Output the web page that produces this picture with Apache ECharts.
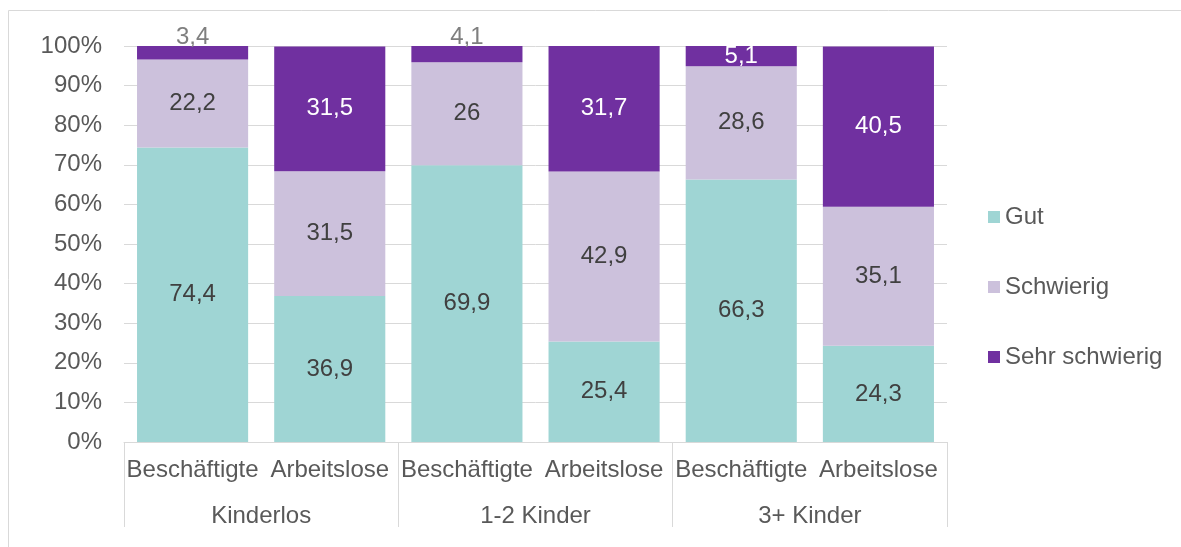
<!DOCTYPE html>
<html>
<head>
<meta charset="utf-8">
<script src="https://cdn.jsdelivr.net/npm/echarts@6/dist/echarts.min.js"></script>
<style>
  html, body { margin: 0; padding: 0; background: #fff; }
  #chart { width: 1181px; height: 547px; }
</style>
</head>
<body>
<div id="chart"></div>
<script>
const categories = ['Beschäftigte', 'Arbeitslose', 'Beschäftigte', 'Arbeitslose', 'Beschäftigte', 'Arbeitslose'];
const groups = ['Kinderlos', '1-2 Kinder', '3+ Kinder'];
const seriesNames = ['Gut', 'Schwierig', 'Sehr schwierig'];
const gut = [74.4, 36.9, 69.9, 25.4, 66.3, 24.3];
const schwierig = [22.2, 31.5, 26, 42.9, 28.6, 35.1];
const sehrSchwierig = [3.4, 31.5, 4.1, 31.7, 5.1, 40.5];
const yTicks = [0, 10, 20, 30, 40, 50, 60, 70, 80, 90, 100];

const colors = ['#9fd5d4', '#ccc1dc', '#7030a0'];
const labelColors = ['#404040', '#404040', '#ffffff'];
const font = 'Liberation Sans, Arial, sans-serif';
const fs = 24;

const fmt = v => String(v).replace('.', ',');

function buildSeries(name, values, i) {
    return {
        name: name,
        type: 'bar',
        stack: 'total',
        barCategoryGap: '19%',
        itemStyle: { color: colors[i] },
        label: {
            show: true,
            position: 'inside',
            color: labelColors[i],
            fontSize: fs,
            fontFamily: font,
            formatter: p => fmt(p.value)
        },
        // tiny top segments get their label above the bar, in grey
        data: values.map(v => (i === 2 && v < 5)
            ? { value: v, label: { position: 'top', distance: -3, color: '#7f7f7f' } }
            : v)
    };
}

const chart = echarts.init(document.getElementById('chart'));
chart.setOption({
    animation: false,
    textStyle: { fontFamily: font },
    graphic: [{
        type: 'rect',
        shape: { x: 8.5, y: 10.5, width: 1180, height: 545 },
        style: { fill: 'none', stroke: '#d9d9d9', lineWidth: 1 },
        silent: true
    }],
    legend: {
        orient: 'vertical',
        left: 988,
        top: 205,
        padding: 0,
        itemWidth: 12,
        itemHeight: 12,
        itemGap: 46,
        icon: 'rect',
        data: seriesNames,
        textStyle: { fontSize: fs, color: '#595959', lineHeight: 24 }
    },
    grid: { left: 124, right: 234, top: 46, bottom: 105 },
    xAxis: [{
        type: 'category',
        data: categories,
        axisLine: { lineStyle: { color: '#d9d9d9' } },
        axisTick: { show: false },
        axisLabel: { color: '#595959', fontSize: fs, margin: 16, interval: 0 }
    }, {
        type: 'category',
        data: groups,
        position: 'bottom',
        axisLine: { show: false },
        axisTick: { show: true, length: 85, lineStyle: { color: '#d9d9d9' } },
        axisLabel: { color: '#595959', fontSize: fs, margin: 62 }
    }],
    yAxis: {
        type: 'value',
        min: yTicks[0],
        max: yTicks[yTicks.length - 1],
        interval: 10,
        axisLine: { show: false },
        axisTick: { show: false },
        splitLine: { lineStyle: { color: '#d9d9d9' } },
        axisLabel: { color: '#595959', fontSize: fs, margin: 22, formatter: v => v + '%' }
    },
    series: [
        buildSeries(seriesNames[0], gut, 0),
        buildSeries(seriesNames[1], schwierig, 1),
        buildSeries(seriesNames[2], sehrSchwierig, 2)
    ]
});
</script>
</body>
</html>
